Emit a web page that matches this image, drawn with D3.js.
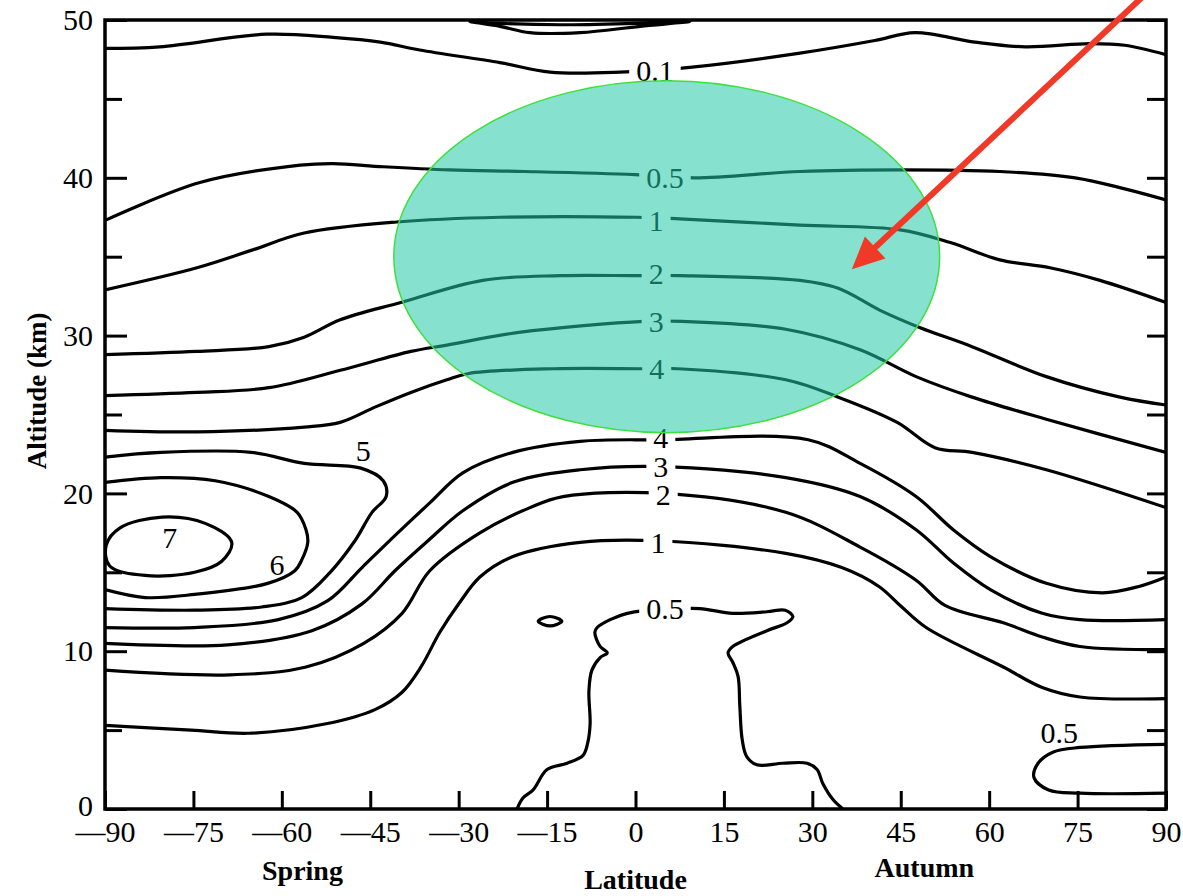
<!DOCTYPE html>
<html>
<head>
<meta charset="utf-8">
<script src="https://cdn.jsdelivr.net/npm/d3@7"></script>
<style>
  body { margin: 0; background: #fff; }
  svg { display: block; }
  text { font-family: "Liberation Serif", "DejaVu Serif", serif; }
</style>
</head>
<body>
<div id="chart"></div>
<script>
// axis ticks
const latTicks = [-90, -75, -60, -45, -30, -15, 0, 15, 30, 45, 60, 75, 90];
const altTicks = [0, 5, 10, 15, 20, 25, 30, 35, 40, 45, 50];

// contour lines, every point is [latitude, altitude km]
const lensTop = [[-28.1, 49.9], [-23.0, 49.6], [-17.9, 49.2], [-9.4, 49.2], [0.8, 49.6], [9.2, 49.9],
  [0.8, 49.8], [-12.8, 49.7], [-23.8, 49.8]];
const upper01 = [[-90, 48.2], [-80.7, 48.3], [-62.5, 49.1], [-51.3, 48.9], [-43.3, 48.6], [-36.6, 48.1],
  [-23.0, 47.3], [-14.5, 46.7], [-2.6, 46.7], [9.2, 47.0], [27.9, 47.9], [40.6, 48.7], [47.4, 49.2],
  [57.6, 48.6], [66.1, 48.3], [77.1, 48.5], [83.0, 48.4], [90, 47.8]];
const upper05 = [[-90, 37.3], [-73.9, 39.7], [-56.9, 40.8], [-51.3, 40.9], [-42.8, 40.7], [-31.5, 40.5],
  [-18.8, 40.4], [-0.1, 40.2], [10.1, 40.0], [27.9, 40.4], [44.9, 40.5], [61.8, 40.4], [74.6, 40.0],
  [83.0, 39.3], [90, 38.6]];
const upper1 = [[-90, 32.9], [-74.4, 34.3], [-65.2, 35.4], [-56.2, 36.5], [-40.5, 37.2], [-23.0, 37.5],
  [0.1, 37.5], [7.5, 37.4], [27.9, 37.0], [44.9, 36.7], [53.4, 35.9], [61.8, 34.8], [70.3, 34.3],
  [78.8, 33.5], [90, 32.1]];
const upper2 = [[-90, 28.8], [-74.4, 29.0], [-62.2, 29.3], [-56.2, 29.9], [-50.1, 31.0], [-39.8, 32.1],
  [-25.9, 33.5], [-12.8, 33.8], [0.1, 33.8], [7.5, 33.8], [27.9, 33.5], [34.4, 33.0], [41.5, 31.6],
  [48.3, 30.5], [57.1, 29.3], [69.7, 27.4], [82.2, 26.1], [90, 25.6]];
const upper3 = [[-90, 26.2], [-74.4, 26.4], [-62.2, 26.7], [-50.1, 27.8], [-38.1, 29.0], [-32.0, 29.4],
  [-19.8, 30.2], [1.4, 30.9], [7.9, 30.9], [25.5, 30.4], [38.1, 29.1], [47.6, 27.4], [57.1, 26.1],
  [69.7, 24.7], [90, 22.6]];
const upper4 = [[-90, 24.0], [-74.4, 23.9], [-56.2, 24.2], [-50.1, 24.5], [-44.0, 25.5], [-38.1, 26.4],
  [-32.0, 27.2], [-28.3, 27.6], [-13.8, 27.9], [1.4, 27.9], [7.2, 27.9], [25.5, 27.2], [34.4, 26.1],
  [44.4, 24.5], [50.8, 22.9], [57.1, 22.6], [69.7, 21.5], [90, 19.1]];
const contour5 = [[-90, 22.3], [-80.5, 22.6], [-65.2, 22.6], [-56.2, 21.9], [-46.6, 21.6], [-42.8, 20.8],
  [-42.3, 19.8], [-44.7, 18.8], [-47.6, 17.0], [-51.8, 15.0], [-56.6, 13.4], [-63.4, 12.8],
  [-74.8, 12.6], [-90, 12.7]];
const contour6 = [[-90, 20.7], [-80.5, 21.0], [-71.3, 20.8], [-62.2, 19.8], [-57.4, 18.8], [-55.9, 17.7],
  [-55.6, 16.9], [-56.6, 15.8], [-57.8, 15.1], [-62.4, 14.3], [-74.8, 13.6], [-83.2, 13.4], [-90, 13.9]];
const contour7 = [[-89.8, 16.7], [-87.5, 17.8], [-80.3, 18.5], [-73.0, 18.1], [-68.5, 16.9], [-70.2, 15.7],
  [-74.8, 15.0], [-83.2, 14.8], [-89.2, 15.4]];
const lower4 = [[-90, 11.5], [-74.8, 11.5], [-60.6, 12.0], [-52.2, 13.2], [-46.4, 15.3], [-40.6, 17.4],
  [-34.9, 19.4], [-29.3, 21.3], [-20.8, 22.6], [-9.4, 23.3], [4.3, 23.4], [29.3, 23.4], [38.1, 21.9],
  [47.6, 19.8], [53.9, 17.7], [60.2, 16.0], [69.7, 14.3], [79.2, 13.7], [85.4, 14.1], [90, 14.7]];
const lower3 = [[-90, 10.5], [-69.2, 10.4], [-54.9, 11.3], [-46.4, 13.0], [-40.8, 15.1], [-35.2, 17.0],
  [-29.3, 18.9], [-20.8, 20.7], [-9.4, 21.5], [4.3, 21.7], [25.5, 21.0], [38.1, 19.8], [47.6, 17.7],
  [53.9, 15.6], [60.2, 13.9], [69.0, 12.4], [75.4, 12.0], [90, 12.0]];
const lower2 = [[-90, 8.8], [-68.8, 8.5], [-55.9, 9.0], [-46.1, 10.5], [-39.6, 12.4], [-34.9, 15.1],
  [-26.4, 17.5], [-17.9, 19.1], [-12.3, 19.8], [4.7, 20.0], [25.5, 18.8], [38.1, 16.6], [47.6, 14.5],
  [52.5, 12.9], [62.4, 11.8], [69.0, 10.9], [75.4, 10.3], [90, 10.1]];
const lower1 = [[-90, 5.3], [-75.4, 5.0], [-65.6, 4.8], [-52.5, 5.4], [-44.2, 6.3], [-39.6, 7.4],
  [-36.4, 9.0], [-33.2, 11.2], [-29.8, 13.1], [-26.4, 14.7], [-20.8, 16.0], [-9.4, 16.9], [3.8, 17.0],
  [25.5, 16.2], [35.0, 15.3], [41.3, 14.1], [44.9, 12.9], [49.3, 11.5], [62.4, 9.0], [69.0, 7.7],
  [75.4, 7.1], [90, 7.0]];
const tower05 = [[-20.1, 0], [-19.1, 0.7], [-17.4, 1.2], [-15.0, 2.5], [-11.6, 2.9], [-8.9, 3.4],
  [-8.1, 4.2], [-7.7, 5.4], [-7.9, 7.5], [-7.4, 8.8], [-6.0, 9.6], [-4.8, 9.9], [-6.0, 10.3],
  [-6.9, 11.2], [-6.5, 11.5], [-4.3, 12.0], [-1.4, 12.4], [5.3, 12.7], [10.9, 12.7], [16.5, 12.4],
  [22.3, 12.5], [25.4, 12.6], [26.7, 12.2], [25.7, 11.8], [22.3, 11.3], [16.5, 10.3], [15.7, 9.9],
  [16.5, 9.3], [17.4, 8.4], [17.7, 6.5], [18.1, 4.4], [18.9, 3.3], [20.6, 2.8], [25.0, 2.9],
  [29.1, 2.9], [30.8, 2.5], [31.8, 1.6], [33.5, 0.6], [35.2, 0]];
const island05 = [[-16.5, 11.9], [-14.5, 12.2], [-12.5, 11.9], [-14.5, 11.6]];
const polar05 = [[90, 4.1], [75.4, 3.9], [70.8, 3.6], [68.3, 2.9], [67.6, 2.0], [70.1, 1.2], [75.4, 1.0],
  [90, 1.0]];

const openLines = [upper01, upper05, upper1, upper2, upper3, upper4, contour5, contour6,
  lower4, lower3, lower2, lower1, tower05, polar05];
const closedLines = [lensTop, contour7, island05];

// labels on the lines: [text, lat, alt, cuts the line]
const lineLabels = [
  ["0.1", 3.3, 46.8, true], ["0.5", 5.0, 40.0, true], ["1", 3.5, 37.3, true], ["2", 3.5, 33.9, true],
  ["3", 3.5, 30.9, true], ["4", 3.6, 27.9, true], ["4", 4.3, 23.5, true], ["3", 4.3, 21.7, true],
  ["2", 4.7, 19.9, true], ["1", 3.8, 16.9, true], ["0.5", 5.0, 12.7, true],
  ["5", -46.2, 22.7, false], ["6", -60.8, 15.5, false], ["7", -79.0, 17.2, false],
  ["0.5", 71.9, 4.8, false]
];

// season names under the axis
const seasonNames = [["Spring", -56.5, -4.5], ["Autumn", 49.0, -4.3]];

// highlight ellipse and arrow (annotations)
const highlight = { lat: 5.3, alt: 35.0, dLat: 46.3, dAlt: 11.15 };
const arrowFrom = [86.4, 51.6], arrowTo = [36.7, 34.2];

const width = 1183, height = 896;

const svg = d3.select("#chart").append("svg")
    .attr("width", width)
    .attr("height", height);

const x = d3.scaleLinear().domain([-90, 90]).range([105, 1166]);
const y = d3.scaleLinear().domain([0, 50]).range([809, 20]);

svg.append("clipPath").attr("id", "plot")
  .append("rect")
    .attr("x", x(-90)).attr("y", y(50))
    .attr("width", x(90) - x(-90)).attr("height", y(0) - y(50));

const line = d3.line()
    .x(d => x(d[0]))
    .y(d => y(d[1]))
    .curve(d3.curveCatmullRom.alpha(0.5));
const loop = d3.line()
    .x(d => x(d[0]))
    .y(d => y(d[1]))
    .curve(d3.curveCatmullRomClosed.alpha(0.5));

const lines = svg.append("g")
    .attr("clip-path", "url(#plot)")
    .attr("fill", "none")
    .attr("stroke", "#000")
    .attr("stroke-width", 3.2)
    .attr("stroke-linejoin", "round");

lines.selectAll("path.open").data(openLines).join("path")
    .attr("class", "open")
    .attr("d", line);
lines.selectAll("path.closed").data(closedLines).join("path")
    .attr("class", "closed")
    .attr("d", loop);

// labels, the central ones cut a gap in their line
const labelGroup = svg.append("g");
lineLabels.forEach(function(l) {
    const g = labelGroup.append("g").attr("transform", `translate(${x(l[1])},${y(l[2])})`);
    const t = g.append("text")
        .attr("text-anchor", "middle")
        .attr("dy", "0.34em")
        .attr("font-size", 30)
        .text(l[0]);
    if (l[3]) {
        const w = t.node().getComputedTextLength() + 14;
        g.insert("rect", "text")
            .attr("x", -w / 2).attr("y", -7)
            .attr("width", w).attr("height", 14)
            .attr("fill", "#fff");
    }
});

// axes, ticks point inwards
const tickStyle = function(g) {
    g.select(".domain").remove();
    g.selectAll(".tick line").attr("stroke-width", 3);
    g.selectAll(".tick text").attr("font-size", 30).attr("fill", "#000")
        .attr("font-family", "'Liberation Serif', serif");
};

svg.append("g")
    .attr("transform", `translate(0,${y(0)})`)
    .call(d3.axisBottom(x).tickValues(latTicks).tickSizeInner(-18).tickSizeOuter(0).tickPadding(12)
        .tickFormat(d => d < 0 ? "\u2014" + Math.abs(d) : d))
    .call(tickStyle);

svg.append("g")
    .attr("transform", `translate(${x(-90)},0)`)
    .call(d3.axisLeft(y).tickValues(altTicks).tickSizeInner(-17).tickSizeOuter(0).tickPadding(12)
        .tickFormat(d => d % 10 === 0 ? d : ""))
    .call(tickStyle)
    .call(g => g.selectAll(".tick line").attr("x2", d => d % 10 === 0 ? 22 : 17))
    .call(g => g.selectAll(".tick text").attr("dy", d => d === 0 ? "0.2em" : "0.32em"));

svg.append("g")
    .attr("transform", `translate(${x(90)},0)`)
    .call(d3.axisRight(y).tickValues(altTicks).tickSizeInner(-19).tickSizeOuter(0).tickFormat(""))
    .call(tickStyle);

svg.append("rect")
    .attr("x", x(-90)).attr("y", y(50))
    .attr("width", x(90) - x(-90)).attr("height", y(0) - y(50))
    .attr("fill", "none")
    .attr("stroke", "#000")
    .attr("stroke-width", 3.5);

// axis titles
svg.append("text")
    .attr("transform", `translate(37,${y(26.5)}) rotate(-90)`)
    .attr("text-anchor", "middle")
    .attr("dy", "0.35em")
    .attr("font-size", 27)
    .attr("font-weight", "bold")
    .text("Altitude (km)");

svg.append("text")
    .attr("x", x(0))
    .attr("y", 889)
    .attr("text-anchor", "middle")
    .attr("font-size", 28)
    .attr("font-weight", "bold")
    .text("Latitude");

svg.selectAll("text.season").data(seasonNames).join("text")
    .attr("class", "season")
    .attr("x", d => x(d[1]))
    .attr("y", d => y(d[2]))
    .attr("text-anchor", "middle")
    .attr("font-size", 28)
    .attr("font-weight", "bold")
    .text(d => d[0]);

// translucent highlight over the middle band
svg.append("ellipse")
    .attr("cx", x(highlight.lat))
    .attr("cy", y(highlight.alt))
    .attr("rx", x(highlight.lat + highlight.dLat) - x(highlight.lat))
    .attr("ry", y(highlight.alt) - y(highlight.alt + highlight.dAlt))
    .attr("fill", "#22c9a6")
    .attr("fill-opacity", 0.55)
    .attr("stroke", "#3ee03e")
    .attr("stroke-width", 1.5);

// red arrow pointing into the ellipse
const x0 = x(arrowFrom[0]), y0 = y(arrowFrom[1]), x1 = x(arrowTo[0]), y1 = y(arrowTo[1]);
const len = Math.hypot(x0 - x1, y0 - y1), ux = (x0 - x1) / len, uy = (y0 - y1) / len;
const headLen = 32, headHalf = 15;
const bx = x1 + ux * headLen, by = y1 + uy * headLen;

svg.append("line")
    .attr("x1", x0).attr("y1", y0)
    .attr("x2", bx + ux * -2).attr("y2", by + uy * -2)
    .attr("stroke", "#f03a27")
    .attr("stroke-width", 6);
svg.append("path")
    .attr("d", `M${x1},${y1}L${bx - uy * headHalf},${by + ux * headHalf}L${bx + uy * headHalf},${by - ux * headHalf}Z`)
    .attr("fill", "#f03a27");
</script>
</body>
</html>
